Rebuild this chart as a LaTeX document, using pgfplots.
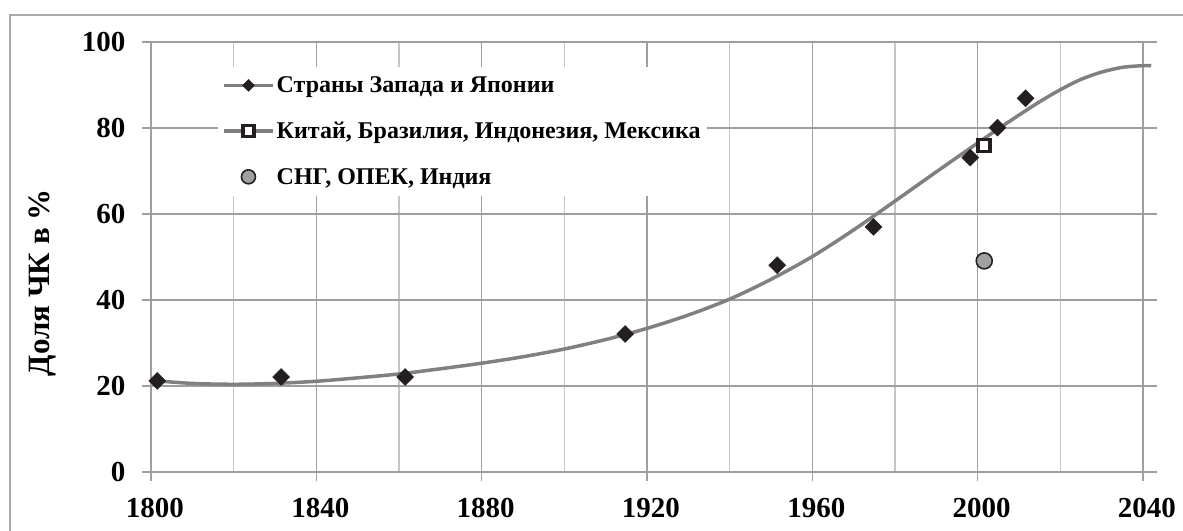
\documentclass[border=0pt]{standalone}
\usepackage{pgfplots}
\pgfplotsset{compat=1.18}
\usepackage{fontspec}
\setmainfont{Liberation Serif}
\definecolor{gridmaj}{RGB}{158,158,160}
\definecolor{gridmin}{RGB}{196,196,202}
\definecolor{curvec}{RGB}{128,128,130}
\definecolor{mk}{RGB}{35,31,32}
\definecolor{circ}{RGB}{160,160,162}
\definecolor{frame}{RGB}{170,170,172}

\pgfplotstableread{
x y
1800 21.3
1810 20.6
1820 20.4
1830 20.6
1840 21.1
1850 21.9
1860 22.8
1870 24.0
1880 25.3
1890 26.8
1900 28.6
1910 30.8
1920 33.4
1930 36.5
1940 40.2
1950 44.8
1960 50.1
1970 56.3
1980 63.0
1990 69.8
2000 76.5
2005 79.8
2010 83.0
2015 86.1
2020 88.9
2025 91.3
2030 93.0
2035 94.1
2040 94.5
2042 94.5
}\curvetab

\pgfplotstableread{
x y
1801.5 21.2
1831.5 22.1
1861.5 22.1
1914.7 32.1
1951.5 48.1
1974.8 57.0
1998.2 73.1
2004.8 80.1
2011.6 86.9
}\westtab

\pgfplotstableread{
x y
2001.6 75.9
}\chinatab

\pgfplotstableread{
x y
2001.6 49.1
}\cistab

\begin{document}
\begin{tikzpicture}[x=1pt,y=1pt]
\path[use as bounding box] (0,0) rectangle (1183,530);
\draw[frame, line width=1.5pt] (10,-20) -- (10,515) -- (1210,515);
\begin{axis}[
  at={(151pt,58pt)}, anchor=south west,
  scale only axis, width=1006pt, height=430pt,
  xmin=1800, xmax=2043.4, ymin=0, ymax=100,
  xtick={1800,1840,...,2040}, minor xtick={1820,1860,...,2020},
  ytick={0,20,...,100},
  xmajorgrids, ymajorgrids, xminorgrids,
  major grid style={gridmaj, line width=1.2pt},
  minor grid style={gridmin, line width=1.2pt},
  axis x line*=bottom, axis y line*=left,
  axis line style={gridmaj, line width=1.2pt, -},
  tick align=outside, major tick length=9pt, minor tick length=0pt,
  tick style={gridmaj, line width=1.2pt},
  ticklabel style={font=\fontsize{29}{31}\selectfont\bfseries, text=black},
  xticklabel style={yshift=-14pt, xshift=4pt},
  yticklabel style={xshift=-13pt},
  /pgf/number format/assume math mode=true,
  /pgf/number format/1000 sep={},
  ylabel={Доля ЧК в \%},
  every axis y label/.style={at={(axis description cs:-0.1083,0.44)}, rotate=90, anchor=center, font=\fontsize{31}{33}\selectfont\bfseries},
  legend style={at={(axis description cs:0.0666,0.943)}, anchor=north west, draw=none, fill=white,
    font=\fontsize{24}{26}\selectfont\bfseries, row sep=24pt, inner xsep=4pt, inner ysep=8pt},
  legend cell align=left,
]
\addlegendimage{legend image code/.code={
  \draw[curvec, line width=3.5pt] (0pt,0pt) -- (49pt,0pt);
  \fill[mk] (24.5pt,6pt) -- (30.5pt,0pt) -- (24.5pt,-6pt) -- (18.5pt,0pt) -- cycle;}}
\addlegendentry{Страны Запада и Японии}
\addlegendimage{legend image code/.code={
  \draw[curvec, line width=3.5pt] (0pt,0pt) -- (49pt,0pt);
  \draw[mk, fill=white, line width=3.5pt] (19pt,-5.5pt) rectangle (30pt,5.5pt);}}
\addlegendentry{Китай, Бразилия, Индонезия, Мексика}
\addlegendimage{legend image code/.code={
  \draw[mk, fill=circ, line width=1.6pt] (24.5pt,0pt) circle (7pt);}}
\addlegendentry{СНГ, ОПЕК, Индия}

\addplot[curvec, line width=3.5pt, smooth, no marks, forget plot] table[x=x,y=y] {\curvetab};
\addplot[only marks, mark=square*, mark size=6pt, mark options={rotate=45, fill=mk, draw=mk, line width=0.4pt}, forget plot] table[x=x,y=y] {\westtab};
\addplot[only marks, mark=square*, mark size=6pt, mark options={fill=white, draw=mk, line width=3.5pt}, forget plot] table[x=x,y=y] {\chinatab};
\addplot[only marks, mark=*, mark size=8pt, mark options={fill=circ, draw=mk, line width=1.6pt}, forget plot] table[x=x,y=y] {\cistab};
\end{axis}
\end{tikzpicture}
\end{document}
